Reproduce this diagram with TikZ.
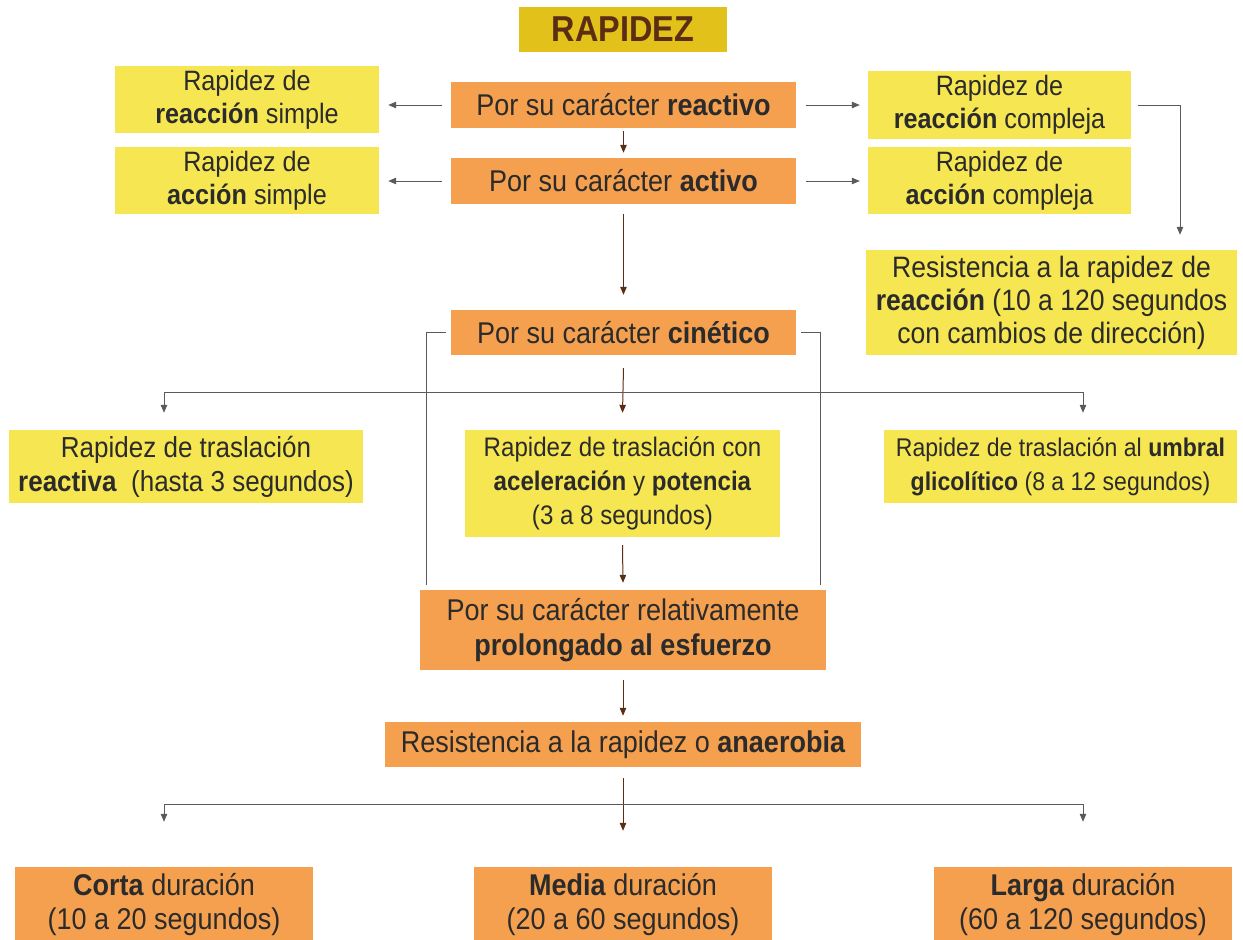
\documentclass[tikz,border=0pt]{standalone}
\usepackage{fontspec}
\setmainfont{Liberation Sans}[FakeStretch=0.9]
\usetikzlibrary{arrows.meta}
\definecolor{naranja}{HTML}{F4A04F}
\definecolor{amarillo}{HTML}{F6E752}
\definecolor{oro}{HTML}{E3C11B}
\definecolor{cafe}{HTML}{5B2E14}
\definecolor{tinta}{HTML}{2B2B2B}
\definecolor{gris}{HTML}{5A5A5A}
\newcommand{\tam}[2]{\fontsize{#1}{#2}\selectfont}

\begin{document}
\begin{tikzpicture}[x=1pt,y=-1pt,
    caja/.style={inner sep=0pt,align=center,text=tinta},
    ora/.style={caja,fill=naranja},
    yel/.style={caja,fill=amarillo},
    line/.style={draw=gris,line width=1pt},
    arr/.style={line,-{Triangle[length=8pt,width=6.5pt]}},
    arrc/.style={draw=cafe,line width=1pt,-{Triangle[length=8pt,width=6.5pt]}}]
  \useasboundingbox (0,0) rectangle (1243,940);

  % Title
  \node[caja,fill=oro,text=cafe,minimum width=208pt,minimum height=45pt,font=\tam{36}{40}\bfseries] (titulo) at (623,29.5) {RAPIDEZ};

  % First level
  \node[yel,minimum width=264pt,minimum height=67pt,font=\tam{28}{33}] (reacsim) at (247,99.5) {Rapidez de\\\textbf{reacción} simple};
  \node[ora,minimum width=345pt,minimum height=46pt,font=\tam{30}{34}] (react) at (623.5,105) {Por su carácter \textbf{reactivo}};
  \node[yel,minimum width=263pt,minimum height=68pt,font=\tam{28}{33}] (reaccom) at (999.5,105) {Rapidez de\\\textbf{reacción} compleja};
  \node[yel,minimum width=264pt,minimum height=67pt,font=\tam{28}{33}] (accsim) at (247,180.5) {Rapidez de\\\textbf{acción} simple};
  \node[ora,minimum width=345pt,minimum height=46pt,font=\tam{30}{34}] (act) at (623.5,181) {Por su carácter \textbf{activo}};
  \node[yel,minimum width=263pt,minimum height=67pt,font=\tam{28}{33}] (acccom) at (999.5,180.5) {Rapidez de\\\textbf{acción} compleja};
  \node[yel,minimum width=371pt,minimum height=105pt,font=\tam{29.5}{33}] (resreac) at (1051.5,302.5) {Resistencia a la rapidez de\\\textbf{reacción} (10 a 120 segundos\\con cambios de dirección)};

  % Kinetic level
  \node[ora,minimum width=345pt,minimum height=45pt,font=\tam{30}{34}] (cin) at (623.5,332.5) {Por su carácter \textbf{cinético}};
  \node[yel,minimum width=354pt,minimum height=73pt,font=\tam{28.9}{34}] (trreac) at (186,466.5) {Rapidez de traslación\\\textbf{reactiva}\ \ (hasta 3 segundos)};
  \node[yel,minimum width=315pt,minimum height=107pt,font=\tam{26.8}{34}] (tracel) at (622.5,483.5) {Rapidez de traslación con\\\textbf{aceleración} y \textbf{potencia}\\(3 a 8 segundos)};
  \node[yel,minimum width=353pt,minimum height=73pt,font=\tam{25.6}{34}] (trumb) at (1060.5,466.5) {Rapidez de traslación al \textbf{umbral}\\\textbf{glicolítico} (8 a 12 segundos)};

  % Prolonged effort
  \node[ora,minimum width=406pt,minimum height=80pt,font=\tam{30}{35}] (prol) at (623,630) {Por su carácter relativamente\\\textbf{prolongado al esfuerzo}};
  \node[ora,minimum width=476pt,minimum height=45pt,font=\tam{30}{34}] (anae) at (623,744.5) {Resistencia a la rapidez o \textbf{anaerobia}};

  % Duration
  \node[ora,minimum width=298pt,minimum height=76pt,font=\tam{30}{34}] (corta) at (164,905) {\textbf{Corta} duración\\(10 a 20 segundos)};
  \node[ora,minimum width=298pt,minimum height=76pt,font=\tam{30}{34}] (media) at (623,905) {\textbf{Media} duración\\(20 a 60 segundos)};
  \node[ora,minimum width=298pt,minimum height=76pt,font=\tam{30}{34}] (larga) at (1083,905) {\textbf{Larga} duración\\(60 a 120 segundos)};

  % Side arrows
  \draw[arr] ([xshift=-9pt]react.west) -- ([xshift=9pt]reacsim.east |- react.west);
  \draw[arr] ([xshift=10pt]react.east) -- ([xshift=-8pt]reaccom.west |- react.east);
  \draw[arr] ([xshift=-9pt]act.west) -- ([xshift=9pt]accsim.east |- act.west);
  \draw[arr] ([xshift=10pt]act.east) -- ([xshift=-8pt]acccom.west |- act.east);
  \draw[arr] ([xshift=7pt]reaccom.east) -| ([xshift=128.5pt,yshift=15pt]resreac.north);

  % Central arrows
  \draw[arrc] ([yshift=-3pt]react.south) -- ([yshift=5pt]act.north);
  \draw[arrc] ([yshift=-10pt]act.south) -- ([yshift=15pt]cin.north);
  \draw[arrc] ([yshift=-13pt]cin.south) -- ([yshift=17pt]tracel.north);
  \draw[arrc] ([yshift=-8pt]tracel.south) -- ([yshift=7pt]prol.north);
  \draw[arrc] ([yshift=-10pt]prol.south) -- ([yshift=6pt]anae.north);
  \draw[arrc] ([yshift=-11pt]anae.south) -- ([yshift=36pt]media.north);

  % Branches
  \draw[arr] ([yshift=-37pt]cin.south) -| ([xshift=-22pt,yshift=17pt]trreac.north);
  \draw[arr] ([yshift=-37pt]cin.south) -| ([xshift=22.5pt,yshift=17pt]trumb.north);
  \draw[line] ([xshift=-5pt]cin.west) -| ([xshift=7pt,yshift=5pt]prol.north west);
  \draw[line] ([xshift=5pt]cin.east) -| ([xshift=-6pt,yshift=5pt]prol.north east);
  \draw[arr] ([yshift=-37pt]anae.south) -| ([yshift=45pt]corta.north);
  \draw[arr] ([yshift=-37pt]anae.south) -| ([yshift=45pt]larga.north);
\end{tikzpicture}
\end{document}
